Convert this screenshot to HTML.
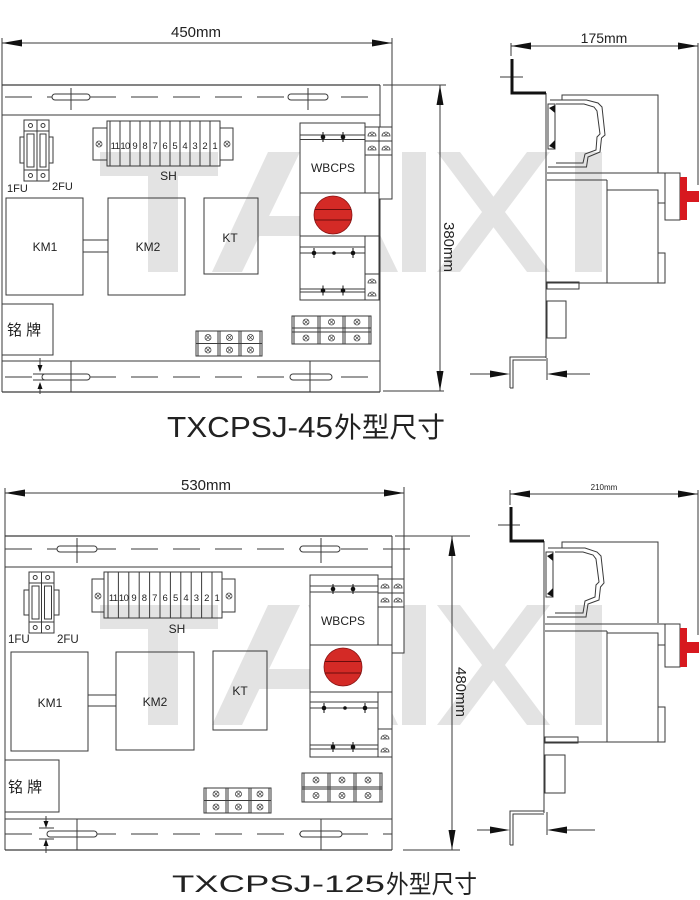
<!DOCTYPE html>
<html><head><meta charset="utf-8"><style>html,body{margin:0;padding:0;background:#fff}svg{display:block}</style></head>
<body>
<svg width="700" height="900" viewBox="0 0 700 900" xmlns="http://www.w3.org/2000/svg" font-family="'Liberation Sans','Noto Sans CJK SC',sans-serif">
<defs>
<g id="wm" fill="#e3e3e3">
<rect x="100" y="152" width="118" height="24"/>
<rect x="148" y="152" width="30" height="120"/>
<polygon points="268,152 300,152 242,272 212,272"/>
<polygon points="308,152 340,152 398,272 366,272"/>
<rect x="250" y="216" width="130" height="20"/>
<rect x="402" y="152" width="24" height="120"/>
<polygon points="437,152 460,152 550,272 527,272"/>
<polygon points="527,152 550,152 460,272 437,272"/>
<rect x="575" y="152" width="27" height="120"/>
</g>
<g id="sx"><circle r="3" fill="none" stroke="#444" stroke-width=".8"/><path d="M-2,-2L2,2M-2,2L2,-2" stroke="#444" stroke-width=".7"/></g>
<g id="dm"><path d="M-4,2A4,4 0 0 1 4,2Z" fill="none" stroke="#444" stroke-width=".8"/><path d="M-2,-1L2,2M-2,2L2,-1" stroke="#444" stroke-width=".6"/></g>
<g id="dt"><circle r="2.3" fill="#111"/><line x1="0" y1="-5" x2="0" y2="5" stroke="#111" stroke-width="1"/></g>
</defs>
<rect width="700" height="900" fill="#fff"/>
<use href="#wm"/>
<use href="#wm" y="453"/>

<!-- ================= TOP ================= -->
<g stroke="#3a3a3a" stroke-width="1" fill="none">
<!-- 450 dim -->
<line x1="2" y1="43" x2="392" y2="43"/>
<line x1="2" y1="38" x2="2" y2="392"/>
<line x1="392" y1="38" x2="392" y2="199"/>
<!-- panel -->
<line x1="2" y1="85" x2="380" y2="85" stroke-width="1.3"/>
<line x1="380" y1="85" x2="380" y2="392"/>
<line x1="2" y1="115" x2="380" y2="115"/>
<line x1="2" y1="361" x2="380" y2="361"/>
<line x1="2" y1="392" x2="380" y2="392" stroke-width="1.3"/>
<line x1="0" y1="97" x2="380" y2="97" stroke-dasharray="27 15" stroke-dashoffset="-5"/>
<line x1="0" y1="377" x2="380" y2="377" stroke-dasharray="27 15" stroke-dashoffset="-5"/>
<rect x="52" y="94" width="38" height="6" rx="3" fill="#fff"/>
<line x1="71" y1="88" x2="71" y2="110"/>
<rect x="288" y="94" width="40" height="6" rx="3" fill="#fff"/>
<line x1="308" y1="88" x2="308" y2="110"/>
<rect x="42" y="374" width="48" height="6" rx="3" fill="#fff"/>
<line x1="71" y1="361" x2="71" y2="392"/>
<rect x="290" y="374" width="42" height="6" rx="3" fill="#fff"/>
<line x1="310" y1="361" x2="310" y2="392"/>
<line x1="40" y1="358" x2="40" y2="366"/>
<line x1="40" y1="388" x2="40" y2="394"/>
<line x1="33" y1="374" x2="48" y2="374"/>
<line x1="33" y1="380" x2="48" y2="380"/>
<!-- fuses -->
<rect x="24" y="120" width="13" height="61"/>
<rect x="37" y="120" width="12" height="61"/>
<line x1="24" y1="131" x2="49" y2="131"/>
<line x1="24" y1="170" x2="49" y2="170"/>
<rect x="27" y="134" width="7" height="33"/>
<rect x="40" y="134" width="6" height="33"/>
<rect x="20" y="137" width="4" height="26"/>
<rect x="49" y="137" width="4" height="26"/>
<circle cx="30.5" cy="125.5" r="2"/><circle cx="43" cy="125.5" r="2"/>
<circle cx="30.5" cy="175.5" r="2"/><circle cx="43" cy="175.5" r="2"/>
<!-- SH -->
<rect x="93" y="128" width="14" height="32"/>
<rect x="220" y="128" width="13" height="32"/>
<rect x="107" y="121" width="113" height="45"/>
<path d="M110,121V166M120,121V166M130,121V166M140,121V166M150,121V166M160,121V166M170,121V166M180,121V166M190,121V166M200,121V166M210,121V166"/>
<!-- KM boxes -->
<rect x="6" y="198" width="77" height="97"/>
<rect x="83" y="240" width="25" height="12"/>
<rect x="108" y="198" width="77" height="97"/>
<rect x="204" y="198" width="54" height="76"/>
<rect x="2" y="304" width="51" height="51"/>
<!-- small terminals left -->
<rect x="196" y="331" width="66" height="25"/>
<line x1="196" y1="343.5" x2="262" y2="343.5"/>
<path d="M198,331V356M218,331V356M220,331V356M239,331V356M241,331V356M260,331V356"/>
<!-- small terminals right -->
<rect x="292" y="316" width="79" height="28"/>
<line x1="292" y1="328" x2="371" y2="328"/>
<line x1="292" y1="332" x2="371" y2="332"/>
<path d="M294,316V344M318,316V344M320,316V344M343,316V344M345,316V344M369,316V344"/>
<!-- WBCPS -->
<rect x="379" y="127" width="13" height="72" fill="#fff"/>
<rect x="365" y="127" width="14" height="173" fill="#fff"/>
<path d="M365,141H392M365,155H392"/>
<rect x="300" y="123" width="65" height="177" fill="#fff"/>
<path d="M300,135H365M300,139.5H365M300,193H365"/>
<rect x="300" y="193" width="79" height="43" fill="#fff"/>
<path d="M300,247H365M300,253H365M300,289H365M300,292H365M365,274H379"/>
<!-- 380 dim -->
<line x1="440" y1="85" x2="440" y2="391"/>
<line x1="383" y1="85" x2="446" y2="85"/>
<line x1="383" y1="391" x2="444" y2="391"/>
</g>
<g fill="#111">
<polygon points="2,43 22,39.5 22,46.5"/>
<polygon points="392,43 372,39.5 372,46.5"/>
<polygon points="440,85 436.5,105 443.5,105"/>
<polygon points="440,391 436.5,371 443.5,371"/>
<polygon points="40,372 37.5,365 42.5,365"/>
<polygon points="40,382 37.5,389 42.5,389"/>
</g>
<use href="#sx" x="99" y="144"/><use href="#sx" x="227" y="144"/>
<use href="#sx" x="208" y="337.5"/><use href="#sx" x="229.5" y="337.5"/><use href="#sx" x="250.5" y="337.5"/>
<use href="#sx" x="208" y="350"/><use href="#sx" x="229.5" y="350"/><use href="#sx" x="250.5" y="350"/>
<use href="#sx" x="306" y="322"/><use href="#sx" x="331.5" y="322"/><use href="#sx" x="357" y="322"/>
<use href="#sx" x="306" y="338"/><use href="#sx" x="331.5" y="338"/><use href="#sx" x="357" y="338"/>
<use href="#dm" x="372" y="134"/><use href="#dm" x="386" y="134"/>
<use href="#dm" x="372" y="148"/><use href="#dm" x="386" y="148"/>
<use href="#dm" x="372" y="281"/><use href="#dm" x="372" y="294"/>
<use href="#dt" x="323" y="137"/><use href="#dt" x="343" y="137"/>
<use href="#dt" x="314" y="253"/><circle cx="334" cy="253" r="1.8" fill="#111"/><use href="#dt" x="353" y="253"/>
<use href="#dt" x="323" y="290.5"/><use href="#dt" x="343" y="290.5"/>
<circle cx="333" cy="215" r="19" fill="#d42a26" stroke="#8a1515" stroke-width=".8"/>
<path d="M314.5,209.5H351.5M314.5,220H351.5" stroke="#6a0c0c" stroke-width="1"/>

<g fill="#222">
<text x="196" y="37" font-size="15" text-anchor="middle">450mm</text>
<text x="7" y="192" font-size="11">1FU</text>
<text x="52" y="190" font-size="11">2FU</text>
<text x="168.5" y="180" font-size="12" text-anchor="middle">SH</text>
<g font-size="9.5" text-anchor="middle">
<text x="115" y="149" letter-spacing="-.6">11</text><text x="125" y="149" letter-spacing="-.6">10</text><text x="135" y="149">9</text><text x="145" y="149">8</text><text x="155" y="149">7</text><text x="165" y="149">6</text><text x="175" y="149">5</text><text x="185" y="149">4</text><text x="195" y="149">3</text><text x="205" y="149">2</text><text x="215" y="149">1</text>
</g>
<text x="45" y="251" font-size="12" text-anchor="middle">KM1</text>
<text x="148" y="251" font-size="12" text-anchor="middle">KM2</text>
<text x="230" y="242" font-size="12" text-anchor="middle">KT</text>
<text x="333" y="172" font-size="12" text-anchor="middle">WBCPS</text>
<text x="7" y="335" font-size="15">铭 牌</text>
<text transform="translate(444,247) rotate(90)" font-size="15" text-anchor="middle">380mm</text>
<text x="167" y="437" font-size="29" textLength="166" lengthAdjust="spacingAndGlyphs">TXCPSJ-45</text>
<text x="334" y="437" font-size="28" textLength="111" lengthAdjust="spacingAndGlyphs">外型尺寸</text>
</g>

<!-- top side view -->
<g stroke="#3a3a3a" stroke-width="1" fill="none">
<line x1="511" y1="46" x2="698" y2="46"/>
<line x1="511" y1="43" x2="511" y2="56"/>
<line x1="698" y1="43" x2="698" y2="185"/>
<line x1="500" y1="77" x2="523" y2="77"/>
<line x1="546" y1="93" x2="546" y2="358"/>
<path d="M546,357H510V388"/>
<path d="M546,360H513V388H510"/>
<line x1="470" y1="374" x2="492" y2="374"/>
<line x1="565" y1="374" x2="590" y2="374"/>
<line x1="547" y1="358" x2="547" y2="380"/>
<path d="M562,100V95H658V173"/>
<path d="M550,100H586.5L598,103L602,107L605,135L601.5,138L600,152L588,157L586.5,167H548"/>
<path d="M556,104H584L594,107L597,111L600,134L597,137L596,150L585,154L583,163H556"/>
<rect x="548" y="104" width="7" height="45"/>
<line x1="547" y1="173" x2="680" y2="173"/>
<line x1="547" y1="180" x2="607" y2="180"/>
<line x1="607" y1="180" x2="607" y2="283"/>
<path d="M607,190H658V283"/>
<path d="M658,203H665V173"/>
<rect x="665" y="173" width="15" height="47"/>
<path d="M658,253H665V283H547"/>
<rect x="547" y="282" width="32" height="7"/>
<rect x="547" y="301" width="19" height="37"/>
</g>
<path d="M512,59V93H546" stroke="#111" stroke-width="3" fill="none"/>
<polygon points="549,108 555,105 555,113" fill="#111"/>
<polygon points="549,146 555,140 555,149" fill="#111"/>
<g fill="#111">
<polygon points="511,46 531,42.5 531,49.5"/>
<polygon points="698,46 678,42.5 678,49.5"/>
<polygon points="510,374 490,370.5 490,377.5"/>
<polygon points="547,374 567,370.5 567,377.5"/>
</g>
<rect x="680" y="177" width="7" height="43" fill="#d7191f"/>
<rect x="687" y="191" width="12" height="11" fill="#d7191f"/>
<text x="604" y="43" font-size="14" text-anchor="middle" fill="#222">175mm</text>

<!-- ================= BOTTOM ================= -->
<g stroke="#3a3a3a" stroke-width="1" fill="none">
<line x1="5" y1="493" x2="404" y2="493"/>
<line x1="5" y1="488" x2="5" y2="850"/>
<line x1="404" y1="487" x2="404" y2="653"/>
<line x1="5" y1="536" x2="392" y2="536" stroke-width="1.3"/>
<line x1="392" y1="536" x2="392" y2="850"/>
<line x1="5" y1="567" x2="392" y2="567"/>
<line x1="5" y1="819" x2="392" y2="819"/>
<line x1="5" y1="850" x2="392" y2="850" stroke-width="1.3"/>
<line x1="0" y1="549" x2="415" y2="549" stroke-dasharray="27 15" stroke-dashoffset="-5"/>
<line x1="0" y1="834" x2="392" y2="834" stroke-dasharray="27 15" stroke-dashoffset="-5"/>
<rect x="57" y="546" width="40" height="6" rx="3" fill="#fff"/>
<line x1="77" y1="538" x2="77" y2="563"/>
<rect x="300" y="546" width="40" height="6" rx="3" fill="#fff"/>
<line x1="321" y1="538" x2="321" y2="563"/>
<rect x="47" y="831" width="50" height="6" rx="3" fill="#fff"/>
<line x1="77" y1="819" x2="77" y2="850"/>
<rect x="300" y="831" width="42" height="6" rx="3" fill="#fff"/>
<line x1="321" y1="819" x2="321" y2="850"/>
<line x1="46" y1="816" x2="46" y2="821"/>
<line x1="46" y1="846" x2="46" y2="853"/>
<line x1="39" y1="828" x2="54" y2="828"/>
<line x1="39" y1="839" x2="54" y2="839"/>
<!-- fuses -->
<rect x="29" y="572" width="12.5" height="61"/>
<rect x="41.5" y="572" width="12.5" height="61"/>
<line x1="29" y1="583" x2="54" y2="583"/>
<line x1="29" y1="622" x2="54" y2="622"/>
<rect x="32" y="586" width="7" height="33"/>
<rect x="44.5" y="586" width="7" height="33"/>
<rect x="24" y="590" width="5" height="25"/>
<rect x="54" y="590" width="5" height="25"/>
<circle cx="35.2" cy="577.5" r="2"/><circle cx="47.7" cy="577.5" r="2"/>
<circle cx="35.2" cy="627.5" r="2"/><circle cx="47.7" cy="627.5" r="2"/>
<!-- SH -->
<rect x="92" y="579" width="12" height="33"/>
<rect x="222" y="579" width="13" height="33"/>
<rect x="104" y="572" width="118" height="46"/>
<path d="M108,572V618M118.4,572V618M128.8,572V618M139.2,572V618M149.6,572V618M160,572V618M170.4,572V618M180.8,572V618M191.2,572V618M201.6,572V618M212,572V618"/>
<!-- KM -->
<rect x="11" y="652" width="77" height="99"/>
<rect x="88" y="695" width="28" height="11"/>
<rect x="116" y="652" width="78" height="98"/>
<rect x="213" y="651" width="54" height="79"/>
<rect x="5" y="760" width="54" height="52"/>
<!-- small terminals -->
<rect x="204" y="788" width="67" height="25"/>
<line x1="204" y1="800.5" x2="271" y2="800.5"/>
<path d="M206,788V813M226,788V813M228,788V813M249,788V813M251,788V813M269,788V813"/>
<rect x="302" y="773" width="80" height="29"/>
<line x1="302" y1="787" x2="382" y2="787"/>
<line x1="302" y1="789" x2="382" y2="789"/>
<path d="M304,773V802M328,773V802M330,773V802M354,773V802M356,773V802M380,773V802"/>
<!-- WBCPS -->
<rect x="392" y="579" width="12" height="74" fill="#fff"/>
<rect x="378" y="579" width="14" height="178" fill="#fff"/>
<path d="M378,593H404M378,607H404M378,729H392"/>
<rect x="310" y="575" width="68" height="182" fill="#fff"/>
<path d="M310,586H378M310,592H378M310,645H378"/>
<rect x="310" y="645" width="82" height="47" fill="#fff"/>
<path d="M310,702H378M310,708H378M310,745H378M310,749H378"/>
<!-- 480 dim -->
<line x1="452" y1="536" x2="452" y2="850"/>
<line x1="395" y1="536" x2="470" y2="536"/>
<line x1="403" y1="850" x2="460" y2="850"/>
</g>
<g fill="#111">
<polygon points="5,493 25,489.5 25,496.5"/>
<polygon points="404,493 384,489.5 384,496.5"/>
<polygon points="452,536 448.5,556 455.5,556"/>
<polygon points="452,850 448.5,830 455.5,830"/>
<polygon points="46,828 43.5,821 48.5,821"/>
<polygon points="46,839 43.5,846 48.5,846"/>
</g>
<use href="#sx" x="98" y="596"/><use href="#sx" x="229" y="596"/>
<use href="#sx" x="216" y="794"/><use href="#sx" x="238.5" y="794"/><use href="#sx" x="260" y="794"/>
<use href="#sx" x="216" y="807"/><use href="#sx" x="238.5" y="807"/><use href="#sx" x="260" y="807"/>
<use href="#sx" x="316" y="780"/><use href="#sx" x="342" y="780"/><use href="#sx" x="368" y="780"/>
<use href="#sx" x="316" y="795.5"/><use href="#sx" x="342" y="795.5"/><use href="#sx" x="368" y="795.5"/>
<use href="#dm" x="385" y="586"/><use href="#dm" x="398" y="586"/>
<use href="#dm" x="385" y="600"/><use href="#dm" x="398" y="600"/>
<use href="#dm" x="385" y="737"/><use href="#dm" x="385" y="750"/>
<use href="#dt" x="333" y="589"/><use href="#dt" x="353" y="589"/>
<use href="#dt" x="324" y="708"/><circle cx="345" cy="708" r="1.8" fill="#111"/><use href="#dt" x="365" y="708"/>
<use href="#dt" x="333" y="747"/><use href="#dt" x="353" y="747"/>
<circle cx="343" cy="667" r="19" fill="#d42a26" stroke="#8a1515" stroke-width=".8"/>
<path d="M324.5,661.5H361.5M324.5,673H361.5" stroke="#6a0c0c" stroke-width="1"/>

<g fill="#222">
<text x="206" y="490" font-size="15" text-anchor="middle">530mm</text>
<text x="8" y="643" font-size="11.5">1FU</text>
<text x="57" y="643" font-size="11.5">2FU</text>
<text x="177" y="633" font-size="12" text-anchor="middle">SH</text>
<g font-size="9.5" text-anchor="middle">
<text x="113.2" y="601" letter-spacing="-.6">11</text><text x="123.6" y="601" letter-spacing="-.6">10</text><text x="134" y="601">9</text><text x="144.4" y="601">8</text><text x="154.8" y="601">7</text><text x="165.2" y="601">6</text><text x="175.6" y="601">5</text><text x="186" y="601">4</text><text x="196.4" y="601">3</text><text x="206.8" y="601">2</text><text x="217.2" y="601">1</text>
</g>
<text x="50" y="707" font-size="12" text-anchor="middle">KM1</text>
<text x="155" y="706" font-size="12" text-anchor="middle">KM2</text>
<text x="240" y="695" font-size="12" text-anchor="middle">KT</text>
<text x="343" y="625" font-size="12" text-anchor="middle">WBCPS</text>
<text x="8" y="792" font-size="15">铭 牌</text>
<text transform="translate(456,692) rotate(90)" font-size="15" text-anchor="middle">480mm</text>
<text x="172" y="892" font-size="24" textLength="213" lengthAdjust="spacingAndGlyphs">TXCPSJ-125</text>
<text x="386" y="893" font-size="25" textLength="91" lengthAdjust="spacingAndGlyphs">外型尺寸</text>
</g>

<!-- bottom side view -->
<g stroke="#3a3a3a" stroke-width="1" fill="none">
<line x1="510" y1="494" x2="698" y2="494"/>
<line x1="510" y1="490" x2="510" y2="505"/>
<line x1="698" y1="490" x2="698" y2="635"/>
<line x1="498" y1="525" x2="520" y2="525"/>
<line x1="544" y1="541" x2="544" y2="813"/>
<path d="M544,811H510V845"/>
<path d="M544,814H513V845H510"/>
<line x1="477" y1="830" x2="492" y2="830"/>
<line x1="565" y1="830" x2="595" y2="830"/>
<line x1="547" y1="812" x2="547" y2="835"/>
<path d="M562,548V542H658V623"/>
<path d="M548,548H585L597,552L601,556L604,583L600.5,587L599,600L588,604L586,617H547"/>
<path d="M555,552H583L593,555L596,559L599,582L596,585L595,597L585,601L583,613H555"/>
<rect x="546" y="552" width="7" height="45"/>
<line x1="545" y1="624" x2="680" y2="624"/>
<line x1="545" y1="631" x2="607" y2="631"/>
<line x1="607" y1="631" x2="607" y2="742"/>
<path d="M607,633H658V742"/>
<path d="M658,645H665V624"/>
<rect x="665" y="624" width="15" height="43"/>
<path d="M658,707H665V742H545"/>
<rect x="545" y="737" width="33" height="6"/>
<rect x="545" y="755" width="20" height="38"/>
</g>
<path d="M511,507V541H544" stroke="#111" stroke-width="3" fill="none"/>
<polygon points="547,556 553,553 553,561" fill="#111"/>
<polygon points="547,594 553,588 553,597" fill="#111"/>
<g fill="#111">
<polygon points="510,494 530,490.5 530,497.5"/>
<polygon points="698,494 678,490.5 678,497.5"/>
<polygon points="510,830 490,826.5 490,833.5"/>
<polygon points="547,830 567,826.5 567,833.5"/>
</g>
<rect x="680" y="628" width="7" height="39" fill="#d7191f"/>
<rect x="687" y="642" width="12" height="11" fill="#d7191f"/>
<text x="604" y="490" font-size="8" text-anchor="middle" fill="#222">210mm</text>
</svg>
</body></html>
